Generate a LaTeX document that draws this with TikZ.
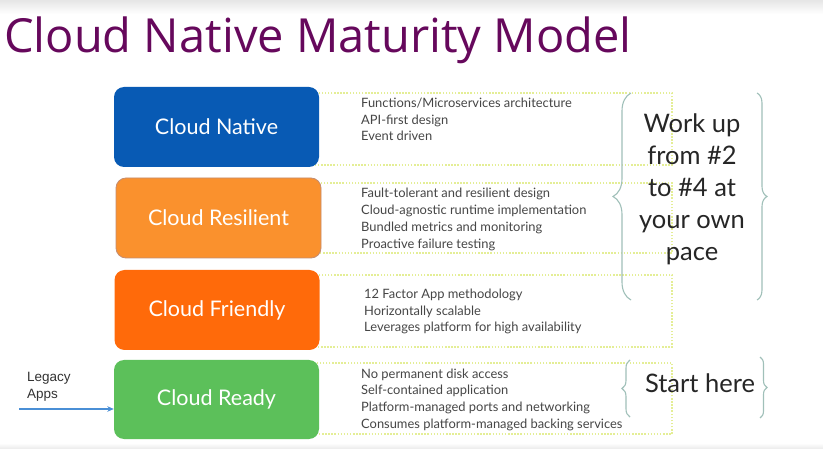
\documentclass[tikz,border=0pt]{standalone}
\usepackage{fontspec}
\setmainfont{Lato}
\newfontfamily\titlefont{Open Sans}
\newfontfamily\legacyfont{Liberation Sans}
\usetikzlibrary{decorations.pathreplacing,arrows.meta}
\definecolor{titlepurple}{RGB}{102,8,92}
\definecolor{nativeblue}{RGB}{8,90,180}
\definecolor{resorange}{RGB}{250,145,45}
\definecolor{resborder}{RGB}{196,140,112}
\definecolor{friendorange}{RGB}{255,106,10}
\definecolor{readygreen}{RGB}{92,192,90}
\definecolor{dotyellow}{RGB}{228,238,150}
\definecolor{desctext}{RGB}{70,70,70}
\definecolor{bracecol}{RGB}{160,192,185}
\definecolor{arrowblue}{RGB}{74,143,214}
\tikzset{
  levelbox/.style={rounded corners=10pt, minimum width=205pt, minimum height=80pt,
    text=white, font=\fontsize{21.5}{24}\selectfont, inner sep=0pt},
  dotrect/.style={draw=dotyellow, line width=1.3pt, dash pattern=on 1.5pt off 1.6pt},
  descline/.style={anchor=base west, inner sep=0pt, text=desctext, font=\fontsize{12.9}{15}\selectfont},
  bigtext/.style={align=center, text=black!85, font=\fontsize{25.5}{32}\selectfont, inner sep=0pt},
  bracestyle/.style={draw=bracecol, line width=1.1pt, decorate},
}
\begin{document}
\begin{tikzpicture}[x=1pt,y=-1pt]
\useasboundingbox (0,0) rectangle (823,449);
\fill[white] (0,0) rectangle (823,449);
\shade[top color=black!10, bottom color=white] (0,0) rectangle (823,14);
\shade[top color=white, bottom color=black!8] (0,443) rectangle (823,449);

% title
\node[anchor=base west, inner sep=0pt, text=titlepurple, font=\titlefont\fontsize{47}{50}\selectfont] (title) at (4,53) {Cloud Native Maturity Model};

% dotted outlines
\draw[dotrect] (300,93) rectangle (672,165);
\draw[dotrect] (300,183) rectangle (672,253);
\draw[dotrect] (300,275) rectangle (672,347);
\draw[dotrect] (300,363) rectangle (672,434);

% level boxes
\node[levelbox, fill=nativeblue] (native) at (216.5,127) {Cloud Native};
\node[levelbox, fill=resorange, draw=resborder, line width=0.8pt] (resilient) at (218.5,218) {Cloud Resilient};
\node[levelbox, fill=friendorange] (friendly) at (217,310) {Cloud Friendly};
\node[levelbox, fill=readygreen, minimum height=79pt] (ready) at (216.5,399.5) {Cloud Ready};

% descriptions
\node[descline] (n1) at (361,107.5) {Functions/Microservices architecture};
\node[descline] (n2) at (361,124.2) {API-first design};
\node[descline] (n3) at (361,140.9) {Event driven};

\node[descline] (r1) at (361,198) {Fault-tolerant and resilient design};
\node[descline] (r2) at (361,214.7) {Cloud-agnostic runtime implementation};
\node[descline] (r3) at (361,231.4) {Bundled metrics and monitoring};
\node[descline] (r4) at (361,248.1) {Proactive failure testing};

\node[descline] (f1) at (364,298.5) {12 Factor App methodology};
\node[descline] (f2) at (364,315.2) {Horizontally scalable};
\node[descline] (f3) at (364,331.9) {Leverages platform for high availability};

\node[descline] (d1) at (361,378) {No permanent disk access};
\node[descline] (d2) at (361,394.7) {Self-contained application};
\node[descline] (d3) at (361,411.4) {Platform-managed ports and networking};
\node[descline] (d4) at (361,428.1) {Consumes platform-managed backing services};

% braces
\draw[bracestyle, decoration={brace, amplitude=18pt}] (631,300) -- (631,93);
\draw[bracestyle, decoration={brace, amplitude=10pt}] (757,93) -- (757,300);
\draw[bracestyle, decoration={brace, amplitude=8pt}] (630,417) -- (630,360);
\draw[bracestyle, decoration={brace, amplitude=7pt}] (760,357) -- (760,418);

\node[bigtext] (work) at (692,189) {Work up\\from \#2\\to \#4 at\\your own\\pace};
\node[bigtext] (start) at (700,383) {Start here};

% legacy apps
\node[anchor=west, align=left, inner sep=0pt, font=\legacyfont\fontsize{13.5}{17}\selectfont, text=black!80] (legacy) at (27,386.5) {Legacy\\Apps};
\coordinate (lstart) at (19,409);
\draw[arrowblue, line width=1.4pt, -{Stealth[length=6.5pt,width=5.5pt]}] (lstart) -- (lstart -| ready.west);
\end{tikzpicture}
\end{document}
